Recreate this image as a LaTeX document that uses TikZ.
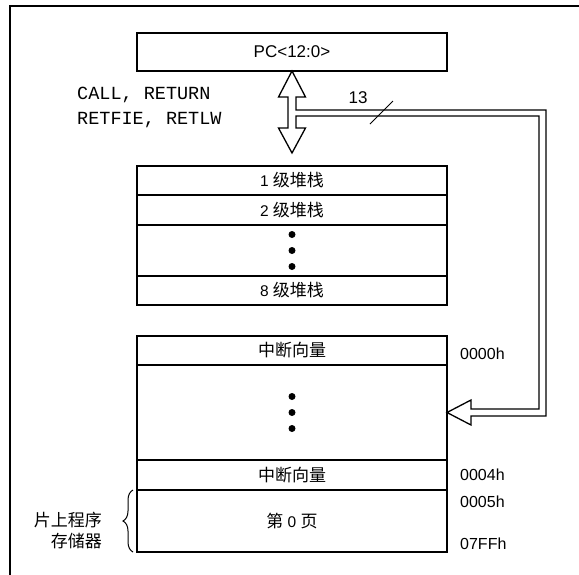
\documentclass[tikz,border=0pt]{standalone}
\usepackage{fontspec}
\setmainfont{Liberation Sans}
\setmonofont{Liberation Mono}
\newfontfamily\cjk{Noto Sans CJK SC}
\newcommand{\zhtext}[1]{{\cjk\fontsize{17}{20}\selectfont #1}}
\usetikzlibrary{positioning,calc,decorations.pathreplacing}

\begin{document}
\begin{tikzpicture}[
    x=1pt, y=-1pt,
    membox/.style={
        rectangle,
        draw=black,
        line width=1.6pt,
        outer sep=0pt,
        inner sep=0pt,
        minimum width=310pt,
        font=\fontsize{15.5}{18}\selectfont
    },
    addr/.style={
        inner sep=0pt,
        font=\fontsize{16}{18}\selectfont
    },
    bus/.style={
        draw=black,
        fill=white,
        line width=1.3pt,
        line join=miter
    },
    dot/.style={circle, fill=black, inner sep=0pt, minimum size=7pt}
]
\useasboundingbox (0,0) rectangle (579,574);

% Outer frame (cut by the page edge)
\draw[line width=2pt] (10,600) -- (10,5.5) -- (600,5.5);

% Program counter
\node[membox, minimum height=38pt, font=\fontsize{17}{20}\selectfont] (pc) at (292,52) {PC<12:0>};

% Hardware stack
\node[membox, minimum height=29pt] (stk1) at (292,180.5) {1 \zhtext{级堆栈}};
\node[membox, minimum height=30pt, below=0pt of stk1] (stk2) {2 \zhtext{级堆栈}};
\node[membox, minimum height=51pt, below=0pt of stk2] (stkdots) {};
\node[membox, minimum height=29pt, below=0pt of stkdots] (stk8) {8 \zhtext{级堆栈}};

% Program memory
\node[membox, minimum height=29pt, below=31pt of stk8] (vec0) {\zhtext{中断向量}};
\node[membox, minimum height=95pt, below=0pt of vec0] (pgdots) {};
\node[membox, minimum height=30pt, below=0pt of pgdots] (vec4) {\zhtext{中断向量}};
\node[membox, minimum height=62pt, below=0pt of vec4] (page0) {\zhtext{第} 0 \zhtext{页}};

\foreach \d in {-16,0,16} {
    \node[dot] at ($(stkdots.center)+(0,\d)$) {};
    \node[dot] at ($(pgdots.center)+(0,\d)$) {};
}

% Addresses
\node[addr, right=13pt of vec0, yshift=-3pt] (a0000) {0000h};
\node[addr, right=13pt of vec4] (a0004) {0004h};
\node[addr, anchor=west] (a0005) at ([xshift=13pt,yshift=-12pt]page0.north east) {0005h};
\node[addr, anchor=west] (a07ff) at ([xshift=13pt,yshift=8pt]page0.south east) {07FFh};

% Stack arrow and 13-bit bus
\coordinate (atop) at (pc.south);
\coordinate (abot) at ([yshift=13pt]stk1.north);
\coordinate (atip) at (pgdots.east);
\draw[bus] (atop) -- ++(13.5,26) -- ++(-9.5,0) -- ++(0,13)
    -| ($(atip)+(99,3.5)$) -- ++(-75,0) -- ++(0,9) -- (atip)
    -- ++(24,-12.5) -- ++(0,9) -- ++(68,0)
    |- ($(atop)+(4,45)$) -- ++(0,12) -- ++(9.5,0) -- (abot)
    -- ++(-13.5,-25) -- ++(9.5,0) -- ++(0,-31) -- ++(-9.5,0) -- cycle;

\coordinate (tick) at (381.5,113);
\draw[line width=1pt] ($(tick)+(-11.5,11)$) -- ($(tick)+(11.5,-12)$);
\node[addr, font=\fontsize{17}{20}\selectfont] (width) at (358,98) {13};

% Instructions using the stack
\node[anchor=west, align=left, inner sep=0pt, font=\ttfamily\fontsize{18.5}{25}\selectfont] (ops) at (77,107.5) {CALL, RETURN\\RETFIE, RETLW};

% On-chip memory brace
\node[anchor=east, align=right, inner sep=0pt, font=\fontsize{17}{21}\selectfont\cjk] (onchip) at ([xshift=-35pt,yshift=-9pt]page0.west) {片上程序\\存储器};
\draw[line width=1pt, decorate, decoration={brace, amplitude=10pt}] ([xshift=-4pt]page0.south west) -- ([xshift=-4pt]page0.north west);

\end{tikzpicture}
\end{document}
